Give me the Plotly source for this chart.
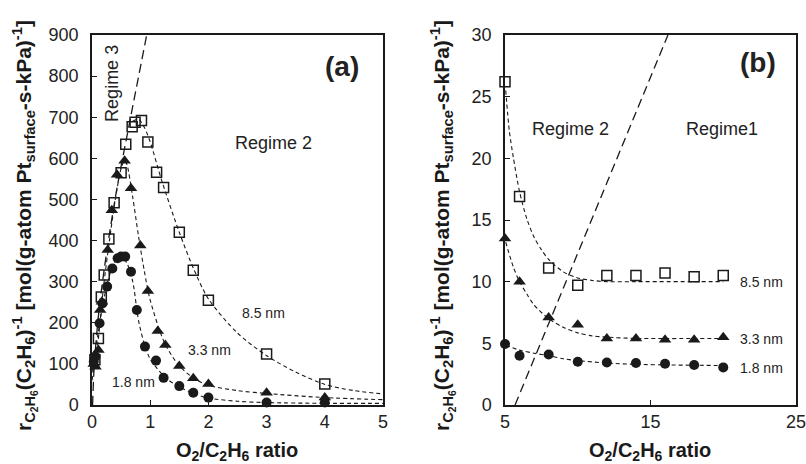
import plotly.graph_objects as go

# ---------------- Panel (a) data ----------------
sq85_x = [0.05, 0.11, 0.16, 0.21, 0.29, 0.38, 0.50, 0.58, 0.69, 0.74, 0.85, 0.96, 1.11, 1.23, 1.50, 1.74, 2.0, 3.0, 4.0]
sq85_y = [110, 162, 263, 316, 404, 492, 565, 634, 677, 688, 692, 640, 566, 529, 420, 328, 255, 124, 51]

tri33_x = [0.03, 0.06, 0.11, 0.14, 0.17, 0.27, 0.34, 0.43, 0.56, 0.67, 0.83, 0.96, 1.13, 1.26, 1.50, 1.74, 2.0, 3.0, 4.0]
tri33_y = [100, 93, 134, 231, 251, 377, 474, 560, 594, 527, 388, 277, 180, 146, 95, 65, 51, 30, 18]

circ18_x = [0.03, 0.06, 0.13, 0.18, 0.26, 0.35, 0.44, 0.50, 0.57, 0.67, 0.77, 0.91, 1.10, 1.23, 1.50, 1.74, 2.0, 3.0, 4.0]
circ18_y = [105, 118, 199, 247, 288, 332, 357, 361, 361, 324, 231, 142, 108, 66, 46, 30, 18, 6, 6]

# fitted curves (a)
fit85_x = [0.70, 0.80, 0.90, 1.00, 1.20, 1.50, 1.75, 2.00, 2.50, 3.00, 3.50, 4.00, 4.50, 5.00]
fit85_y = [690, 695, 675, 640, 545, 420, 330, 258, 175, 120, 80, 50, 35, 27]
fit33_x = [0.00, 0.10, 0.20, 0.30, 0.40, 0.50, 0.56, 0.60, 0.70, 0.80, 0.90, 1.00, 1.25, 1.50, 1.75, 2.00, 2.50, 3.00, 4.00, 5.00]
fit33_y = [60, 150, 290, 400, 500, 575, 595, 585, 505, 410, 325, 255, 150, 95, 65, 48, 35, 28, 18, 13]
fit18_x = [0.00, 0.10, 0.20, 0.30, 0.40, 0.50, 0.60, 0.70, 0.80, 0.90, 1.00, 1.25, 1.50, 1.75, 2.00, 2.50, 3.00, 4.00, 5.00]
fit18_y = [80, 170, 255, 315, 350, 362, 345, 300, 205, 148, 112, 68, 44, 28, 17, 9, 6, 4, 4]
reg3_x = [0.01, 0.04, 0.12, 0.25, 0.42, 0.65, 0.94]
reg3_y = [0, 100, 230, 370, 520, 690, 900]

# ---------------- Panel (b) data ----------------
xb = [5, 6, 8, 10, 12, 14, 16, 18, 20]
sq85_b = [26.2, 16.9, 11.1, 9.7, 10.5, 10.5, 10.7, 10.4, 10.5]
tri33_b = [13.5, 10.0, 7.1, 6.5, 5.4, 5.4, 5.3, 5.3, 5.5]
circ18_b = [4.95, 4.0, 4.1, 3.5, 3.45, 3.4, 3.35, 3.25, 3.05]

fit85b_x = [5.05, 5.3, 5.57, 6.0, 6.5, 7.0, 7.5, 8.0, 9.0, 10.0, 11.0, 12.0, 14.0, 20.0]
fit85b_y = [25.5, 22.2, 20.1, 17.3, 15.1, 13.6, 12.6, 11.8, 10.8, 10.3, 10.1, 10.0, 10.0, 10.0]
fit33b_x = [5.05, 5.57, 6.0, 6.5, 7.0, 8.0, 9.0, 10.0, 11.0, 12.0, 14.0, 20.0]
fit33b_y = [13.2, 11.2, 10.0, 9.0, 8.1, 7.0, 6.3, 5.85, 5.6, 5.5, 5.4, 5.4]
fit18b_x = [5.05, 6.0, 7.0, 8.0, 9.0, 10.0, 12.0, 14.0, 16.0, 20.0]
fit18b_y = [4.85, 4.45, 4.2, 4.0, 3.75, 3.6, 3.4, 3.3, 3.25, 3.2]
reg_b_x = [5.69, 16.2]
reg_b_y = [0, 30]

fig = go.Figure()

INK = "#1a1a1a"
SHORT = "4px,3px"
LONG = "9px,5px"

def curve(x, y, xa, ya, dash, width=1.1, smooth=True):
    fig.add_trace(go.Scatter(x=x, y=y, xaxis=xa, yaxis=ya, mode="lines",
                             line=dict(color=INK, width=width, dash=dash,
                                       shape="spline" if smooth else "linear",
                                       smoothing=0.8),
                             showlegend=False, hoverinfo="skip"))

def pts(x, y, xa, ya, sym, filled):
    fig.add_trace(go.Scatter(x=x, y=y, xaxis=xa, yaxis=ya, mode="markers",
                             cliponaxis=False,
                             marker=dict(symbol=sym, size=10 if sym != "triangle-up" else 11,
                                         color=INK if filled else "rgba(0,0,0,0)",
                                         line=dict(color=INK, width=1.5 if not filled else 0)),
                             showlegend=False))

# panel (a)
curve(fit85_x, fit85_y, "x", "y", SHORT)
curve(fit33_x, fit33_y, "x", "y", SHORT)
curve(fit18_x, fit18_y, "x", "y", SHORT)
curve(reg3_x, reg3_y, "x", "y", LONG, width=1.3)
pts(sq85_x, sq85_y, "x", "y", "square", False)
pts(tri33_x, tri33_y, "x", "y", "triangle-up", True)
pts(circ18_x, circ18_y, "x", "y", "circle", True)

# panel (b)
curve(fit85b_x, fit85b_y, "x2", "y2", SHORT)
curve(fit33b_x, fit33b_y, "x2", "y2", SHORT)
curve(fit18b_x, fit18b_y, "x2", "y2", SHORT)
curve(reg_b_x, reg_b_y, "x2", "y2", LONG, width=1.3, smooth=False)
pts(xb, sq85_b, "x2", "y2", "square", False)
pts(xb, tri33_b, "x2", "y2", "triangle-up", True)
pts(xb, circ18_b, "x2", "y2", "circle", True)

W, H = 806, 464
def px_x(p):
    return p / W
def px_y(p):
    return 1 - p / H

axis_common = dict(showgrid=False, zeroline=False, showline=True, linecolor=INK,
                   linewidth=1.5, mirror=True, ticks="inside", ticklen=5,
                   tickcolor=INK, tickwidth=1.2, automargin=False,
                   ticklabeloverflow="allow",
                   tickfont=dict(family="Liberation Sans, Arial", size=18, color="#222"))

fig.update_layout(
    width=W, height=H,
    margin=dict(l=0, r=0, t=0, b=0, autoexpand=False),
    paper_bgcolor="white", plot_bgcolor="white",
    xaxis=dict(domain=[px_x(92), px_x(383)], range=[0, 5], dtick=1, anchor="y", **axis_common),
    yaxis=dict(domain=[px_y(405), px_y(35)], range=[0, 900], dtick=100, anchor="x",
               ticklabelstandoff=8, **axis_common),
    xaxis2=dict(domain=[px_x(505), px_x(796)], range=[5, 25], tickvals=[5, 15, 25], anchor="y2", **axis_common),
    yaxis2=dict(domain=[px_y(405), px_y(35)], range=[0, 30], dtick=5, anchor="x2",
                ticklabelstandoff=8, **axis_common),
)

FONT = "Liberation Sans, Arial"
ytitle = ("<b>r<sub>C<sub>2</sub>H<sub>6</sub></sub>(C<sub>2</sub>H<sub>6</sub>)<sup>-1</sup> "
          "[mol(g-atom Pt<sub>surface</sub>-s-kPa)<sup>-1</sup>]</b>")
xtitle = "<b>O<sub>2</sub>/C<sub>2</sub>H<sub>6</sub> ratio</b>"

anns = []
# axis titles
for cx in (25, 443):
    anns.append(dict(x=px_x(cx), y=px_y(226), xref="paper", yref="paper", text=ytitle,
                     textangle=-90, showarrow=False, font=dict(family=FONT, size=21, color=INK),
                     xanchor="center", yanchor="middle"))
for cx in (237, 650):
    anns.append(dict(x=px_x(cx), y=px_y(451), xref="paper", yref="paper", text=xtitle,
                     showarrow=False, font=dict(family=FONT, size=20, color=INK),
                     xanchor="center", yanchor="middle"))

def lab(text, x, y, xr, yr, size=18, bold=False, angle=0):
    anns.append(dict(x=x, y=y, xref=xr, yref=yr, text=f"<b>{text}</b>" if bold else text,
                     showarrow=False, textangle=angle,
                     font=dict(family=FONT, size=size, color="#222"),
                     xanchor="center", yanchor="middle"))

lab("(a)", 4.30, 823, "x", "y", size=28, bold=True)
lab("Regime 2", 3.125, 638, "x", "y")
lab("Regime 3", 0.34, 783, "x", "y", angle=-90)
lab("8.5 nm", 2.94, 223, "x", "y", size=14)
lab("3.3 nm", 2.02, 135, "x", "y", size=14)
lab("1.8 nm", 0.71, 57, "x", "y", size=14)

lab("(b)", 22.39, 27.8, "x2", "y2", size=28, bold=True)
lab("Regime 2", 9.47, 22.4, "x2", "y2")
lab("Regime1", 19.9, 22.4, "x2", "y2")
lab("8.5 nm", 22.64, 9.95, "x2", "y2", size=14)
lab("3.3 nm", 22.64, 5.33, "x2", "y2", size=14)
lab("1.8 nm", 22.64, 2.98, "x2", "y2", size=14)

fig.update_layout(annotations=anns)
# remove the page's default body margin so the 806x464 figure fills the window exactly
fig.write_html("out.html",
               config={"displayModeBar": False},
               post_script="document.body.style.margin='0';document.body.style.overflow='hidden';")
